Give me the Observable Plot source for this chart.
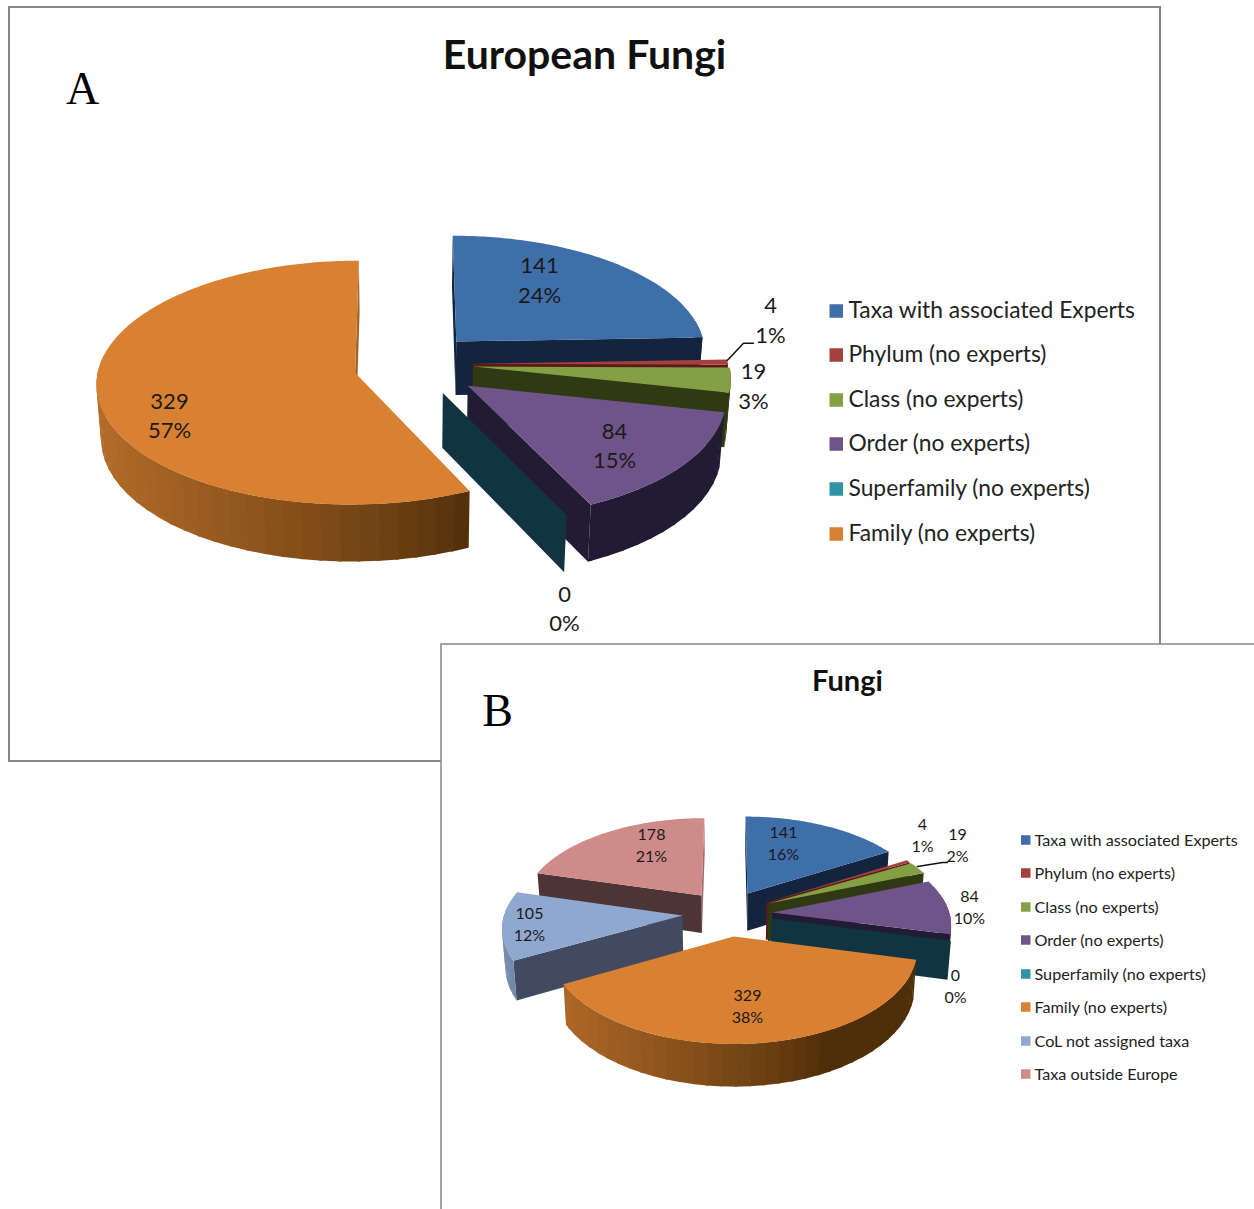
<!DOCTYPE html>
<html>
<head>
<meta charset="utf-8">
<script src="https://cdn.jsdelivr.net/npm/d3@7"></script>
<script src="https://cdn.jsdelivr.net/npm/@observablehq/plot@0.6"></script>
<style>
  html, body { margin: 0; padding: 0; background: #fff; }
  svg { display: block; }
</style>
</head>
<body>
<div id="chart"></div>
<script>
// Values of the two pies
const categoriesA = ["Taxa with associated Experts", "Phylum (no experts)", "Class (no experts)",
                     "Order (no experts)", "Superfamily (no experts)", "Family (no experts)"];
const valuesA = [141, 4, 19, 84, 0, 329];
const percentsA = ["24%", "1%", "3%", "15%", "0%", "57%"];

const categoriesB = [...categoriesA, "CoL not assigned taxa", "Taxa outside Europe"];
const valuesB = [141, 4, 19, 84, 0, 329, 105, 178];
const percentsB = ["16%", "1%", "2%", "10%", "0%", "38%", "12%", "21%"];

// Slice colours: lit top face and the shaded wall colour
const topColors = ["#3f6fa8", "#a5403c", "#84a044", "#6f5489", "#2f93a6", "#d88132", "#8fa8cf", "#ce8b8a"];
const wallColors = ["#13243f", "#5c1a16", "#2f3a12", "#211b33", "#113540", "#4f2e08", "#424a62", "#4e3535"];

// Camera settings of each pie; each slice has an explosion offset and a radius, in pie-radius units
const viewA = {
  cx: 405.6, cy: 367.5, rx: 258, ry: 121, depth: 55, perspective: 0.08, shrink: 0.015,
  explode: [[0.198, 0.223, 0.975], [0.26, 0.035, 0.99], [0.26, 0.012, 0.995], [0.236, -0.145, 0.985],
            [0.14, -0.203, 1], [-0.197, -0.04, 0.995]],
  order: [0, 1, 2, 3, 4, 5]
};
const viewB = {
  cx: 728, cy: 910, rx: 180, ry: 90, depth: 38.5, perspective: 0.12, shrink: 0.015,
  explode: [[0.108, 0.193, 1], [0.213, 0.09, 0.99], [0.224, 0.079, 0.985], [0.243, -0.022, 0.98], [0.236, -0.088, 0.98],
            [0.027, -0.279, 0.98], [-0.254, -0.055, 0.985], [-0.153, 0.17, 1]],
  order: [7, 0, 1, 2, 3, 4, 6, 5]
};

// Places of the value labels and legends
const labelPlacesA = [[539, 278], [770, 318], [753, 384], [614, 443.5], [564, 606.5], [169, 413.5]];
const labelPlacesB = [[783, 841], [922, 833], [957, 843], [969, 905], [955, 984], [747, 1004], [529, 922], [651, 843]];
const legendRowsA = [310, 354, 399, 443, 488, 533];
const legendRowsB = [840, 873, 907, 940, 974, 1007, 1041, 1074];
const swatchRowsA = [311, 355, 400, 444, 489, 534];
const leaderA = [[726.7, 360], [743, 342.7], [753, 342.7]];
const leaderB = [[917, 866], [942, 862], [947, 862]];

const bodyFont = "Lato, Carlito, sans-serif";
const serifFont = "'Liberation Serif', serif";

// Builds the filled polygons of one 3D pie, back to front
function pieFaces(values, view, prefix) {
  const total = d3.sum(values);
  const stops = d3.cumsum([0, ...values]).map(v => v / total * 2 * Math.PI);
  const faces = [];
  let faceId = 0;
  const push = (points, fill) => {
    const id = `${prefix}-${faceId++}`;
    for (const [x, y] of points) faces.push({id, x, y, fill});
  };
  const signedArea = pts => d3.sum(pts, (p, i) => {
    const q = pts[(i + 1) % pts.length];
    return p[0] * q[1] - q[0] * p[1];
  });
  for (const k of view.order) {
    const [ex, ey, radius] = view.explode[k];
    const project = (X, Y, Z) => {
      const s = (1 - view.shrink * Z) / (1 + view.perspective * Y);
      return [view.cx + view.rx * X * s, view.cy - view.ry * Y * s + view.depth * Z * s];
    };
    const rim = (a, Z) => project(ex + radius * Math.sin(a), ey + radius * Math.cos(a), Z);
    const apexTop = project(ex, ey, 0), apexBottom = project(ex, ey, 1);
    const a0 = stops[k], a1 = stops[k + 1];
    const light = d3.interpolateRgb(wallColors[k], d3.rgb(topColors[k]).darker(0.5));

    // Radial walls, drawn only when they turn towards the viewer
    const endWall = [apexTop, rim(a1, 0), rim(a1, 1), apexBottom];
    if (signedArea(endWall) > 0) push(endWall, Math.cos(a1) > 0.95 ? light(0.85) : wallColors[k]);
    const startWall = [apexTop, rim(a0, 0), rim(a0, 1), apexBottom];
    if (values[k] > 0 && signedArea(startWall) < 0) push(startWall, wallColors[k]);

    if (values[k] === 0) continue;

    // Outer rim in narrow overlapping bands, lighter towards the left
    const band = 4 * Math.PI / 180;
    const overlap = 0.6 * Math.PI / 180;
    for (let a = a0; a < a1 - 1e-6; a += band) {
      const b = Math.min(a + band, a1), m = (a + b) / 2;
      if (Math.cos(m) > 0.15) continue;
      const t = Math.max(0, Math.min(1, (0.43 - Math.sin(m)) / 1.43)) ** 0.8;
      const c = Math.max(a0, a - overlap);
      push([rim(c, 0), rim(b, 0), rim(b, 1), rim(c, 1)], light(t));
    }

    // Top face
    const n = Math.max(2, Math.ceil((a1 - a0) / 0.015));
    push([apexTop, ...d3.range(n + 1).map(i => rim(a0 + (a1 - a0) * i / n, 0))], topColors[k]);
  }
  return faces;
}

const faceMark = rows => Plot.line(rows, {
  x: "x", y: "y", z: "id", fill: "fill", curve: "linear-closed", stroke: null
});

const valueLabels = (values, percents, places, fontSize, lineHeight) => Plot.text(
  values.map((v, i) => ({text: `${v}\n${percents[i]}`, x: places[i][0], y: places[i][1]})),
  {x: "x", y: "y", text: "text", fontFamily: bodyFont, fontSize, lineHeight, fill: "#1a1a1a"}
);

const legendMarks = (categories, swatchRows, textRows, swatchX, swatchSize, textX, fontSize) => {
  const table = categories.map((name, i) => ({name, swatch: swatchRows[i], y: textRows[i], fill: topColors[i]}));
  return [
    Plot.rect(table, {
      x1: swatchX, x2: swatchX + swatchSize,
      y1: d => d.swatch - swatchSize / 2, y2: d => d.swatch + swatchSize / 2,
      fill: "fill"
    }),
    Plot.text(table, {
      x: textX, y: "y", text: "name", textAnchor: "start",
      fontFamily: bodyFont, fontSize, fill: "#222"
    })
  ];
};

const leaderMark = points => Plot.line(points, {
  x: d => d[0], y: d => d[1], stroke: "#111", strokeWidth: 1.5, curve: "linear"
});

const chart = Plot.plot({
  width: 1254,
  height: 1209,
  margin: 0,
  style: {background: "#fff"},
  x: {domain: [0, 1254], range: [0, 1254], axis: null},
  y: {domain: [0, 1209], range: [0, 1209], axis: null},
  color: {type: "identity"},
  marks: [
    // Panel A
    Plot.rect([0], {x1: 9, x2: 1160, y1: 7, y2: 761, fill: "#fff", stroke: "#868686", strokeWidth: 2}),
    faceMark(pieFaces(valuesA, viewA, "a")),
    valueLabels(valuesA, percentsA, labelPlacesA, 22, 1.35),
    leaderMark(leaderA),
    ...legendMarks(categoriesA, swatchRowsA, legendRowsA, 829.5, 13.5, 848, 22.8),
    Plot.text(["European Fungi"], {x: 584, y: 55, text: d => d, fontFamily: bodyFont, fontWeight: "bold", fontSize: 41, fill: "#111"}),
    Plot.text(["A"], {x: 82, y: 89, text: d => d, fontFamily: serifFont, fontSize: 46, fill: "#000"}),

    // Panel B sits over the lower right corner of panel A
    Plot.rect([0], {x1: 441, x2: 1260, y1: 644, y2: 1215, fill: "#fff", stroke: "#868686", strokeWidth: 1.5}),
    faceMark(pieFaces(valuesB, viewB, "b")),
    valueLabels(valuesB, percentsB, labelPlacesB, 16, 1.38),
    leaderMark(leaderB),
    ...legendMarks(categoriesB, legendRowsB, legendRowsB, 1021, 9.5, 1034, 16.2),
    Plot.text(["Fungi"], {x: 847, y: 681, text: d => d, fontFamily: bodyFont, fontWeight: "bold", fontSize: 29, fill: "#111"}),
    Plot.text(["B"], {x: 497, y: 711, text: d => d, fontFamily: serifFont, fontSize: 46, fill: "#000"})
  ]
});
document.getElementById("chart").appendChild(chart);
</script>
</body>
</html>
